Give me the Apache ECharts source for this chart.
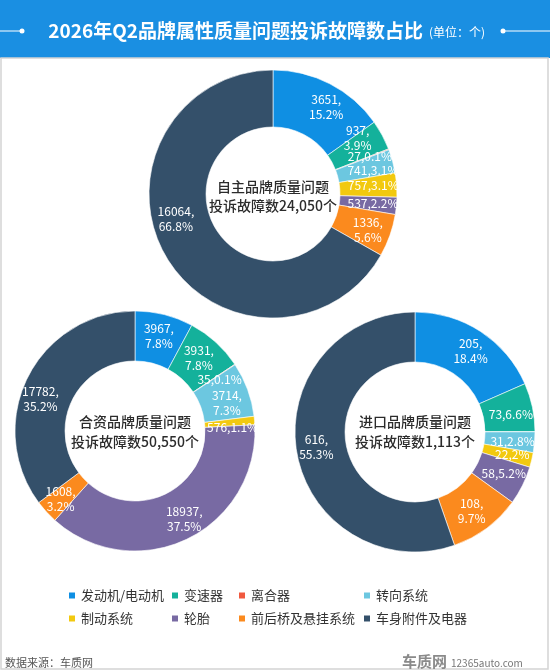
<!DOCTYPE html>
<html><head><meta charset="utf-8">
<script src="https://cdn.jsdelivr.net/npm/echarts@6/dist/echarts.min.js"></script>
<style>html,body{margin:0;padding:0;background:#fff;}#c{width:550px;height:672px;}</style>
</head><body><div id="c"></div>
<script>
var categories = ['发动机/电动机','变速器','离合器','转向系统','制动系统','轮胎','前后桥及悬挂系统','车身附件及电器'];
var domesticValues = [3651, 937, 27, 741, 757, 537, 1336, 16064];
var jointValues = [3967, 3931, 35, 3714, 576, 18937, 1608, 17782];
var importValues = [205, 73, 0, 31, 22, 58, 108, 616];
var domesticTitle = ['自主品牌质量问题', '投诉故障数24,050个'];
var jointTitle = ['合资品牌质量问题', '投诉故障数50,550个'];
var importTitle = ['进口品牌质量问题', '投诉故障数1,113个'];
var chartTitle = '2026年Q2品牌属性质量问题投诉故障数占比';
var unitText = '(单位：个)';
var sourceText = '数据来源：车质网';

var colors = ['#0f8fe3','#14b19b','#f0593f','#6cc7e0','#f2c90f','#786aa3','#fb8a1e','#34506a'];
var FONT = '"Noto Sans CJK SC","Microsoft YaHei",sans-serif';

// label layout: which slices print value and percent on two lines, and small nudges
var wrapDomestic = [true, true, false, false, false, false, true, true];
var wrapJoint = [true, true, false, true, false, true, true, true];
var wrapImport = [true, false, false, false, false, false, true, true];
var nudgeDomestic = [[8,0],[-2,-9],[5,-2],[5,3],[2,-1],[2,0],[2,3],[-12,-25]];
var nudgeJoint = [[0,0],[-2,-1],[3,3],[0,6],[0,5],[7,-1],[-2,2],[-7,12]];
var nudgeImport = [[2,1],[0,3],[0,0],[0,1],[2,0],[1,-2],[-2,0],[-2,-1]];

function makePie(values, wrap, nudge, center, radius) {
  var sum = values.reduce(function(a,b){return a+b;}, 0);
  return {
    type: 'pie',
    center: center,
    radius: radius,
    startAngle: 90,
    clockwise: true,
    avoidLabelOverlap: false,
    labelLayout: { hideOverlap: false },
    itemStyle: { borderColor: '#ffffff', borderWidth: 0.6 },
    label: {
      show: true,
      position: 'inside',
      color: '#ffffff',
      fontSize: 12,
      lineHeight: 15,
      fontFamily: FONT,
      formatter: function(p) {
        if (!p.value) return '';
        var pct = parseFloat((p.value / sum * 100).toFixed(1));
        return p.value + ',' + (wrap[p.dataIndex] ? '\n' : '') + pct + '%';
      }
    },
    labelLine: { show: false },
    emphasis: { disabled: true },
    animation: false,
    data: categories.map(function(n, i){
      return { name: n, value: values[i], label: { offset: nudge[i] } };
    })
  };
}

function centerText(lines, x, y1, y2) {
  return [
    { type: 'text', x: x, y: y1, z: 100, style: { text: lines[0], fill: '#2b2b2b', font: '500 14px ' + FONT, textAlign: 'center', textVerticalAlign: 'middle' } },
    { type: 'text', x: x, y: y2, z: 100, style: { text: lines[1], fill: '#2b2b2b', font: '500 14px ' + FONT, textAlign: 'center', textVerticalAlign: 'middle' } }
  ];
}

var legendCols = [67, 170, 237, 362];
var legends = legendCols.map(function(x, c) {
  return {
    orient: 'vertical',
    left: x,
    top: 589,
    padding: 0,
    itemWidth: 8,
    itemHeight: 8,
    itemGap: 10,
    icon: 'rect',
    selectedMode: false,
    textStyle: { fontSize: 13, color: '#333', fontFamily: FONT },
    data: [categories[c], categories[c + 4]]
  };
});

var graphics = [
  { type: 'rect', shape: { x: 0, y: 0, width: 550, height: 58 }, style: { fill: '#1a8fe2' } },
  { type: 'rect', shape: { x: 1, y: 58, width: 547, height: 611 }, style: { fill: 'none', stroke: '#d4d4d4', lineWidth: 1.5 } },
  { type: 'line', shape: { x1: 0, y1: 31, x2: 22, y2: 31 }, style: { stroke: '#fff', lineWidth: 1 } },
  { type: 'circle', shape: { cx: 22, cy: 31, r: 2.5 }, style: { fill: '#fff' } },
  { type: 'line', shape: { x1: 503, y1: 31, x2: 550, y2: 31 }, style: { stroke: '#fff', lineWidth: 1 } },
  { type: 'circle', shape: { cx: 503, cy: 31, r: 2.5 }, style: { fill: '#fff' } },
  { type: 'text', x: 423, y: 31, style: { text: chartTitle, fill: '#fff', font: 'bold 19px ' + FONT, textAlign: 'right', textVerticalAlign: 'middle' } },
  { type: 'text', x: 429, y: 32, style: { text: unitText, fill: '#fff', font: '12px ' + FONT, textAlign: 'left', textVerticalAlign: 'middle' } },
  { type: 'text', x: 5, y: 663, style: { text: sourceText, fill: '#555', font: '11px ' + FONT, textAlign: 'left', textVerticalAlign: 'middle' } },
  { type: 'text', x: 402, y: 661, style: { text: '车质网', fill: '#8a8a8a', font: 'bold 15px ' + FONT, textAlign: 'left', textVerticalAlign: 'middle' } },
  { type: 'text', x: 451, y: 663, style: { text: '12365auto.com', fill: '#777', font: '10px ' + FONT, textAlign: 'left', textVerticalAlign: 'middle' } }
].concat(centerText(domesticTitle, 273, 187, 206))
 .concat(centerText(jointTitle, 135, 422, 442))
 .concat(centerText(importTitle, 415, 422, 442));

var chart = echarts.init(document.getElementById('c'), null, { renderer: 'canvas' });
chart.setOption({
  backgroundColor: '#ffffff',
  animation: false,
  color: colors,
  legend: legends,
  graphic: graphics,
  series: [
    makePie(domesticValues, wrapDomestic, nudgeDomestic, [273, 194], [67, 124]),
    makePie(jointValues, wrapJoint, nudgeJoint, [135, 431], [70, 120]),
    makePie(importValues, wrapImport, nudgeImport, [415, 432], [70, 120])
  ]
});
</script>
</body></html>
